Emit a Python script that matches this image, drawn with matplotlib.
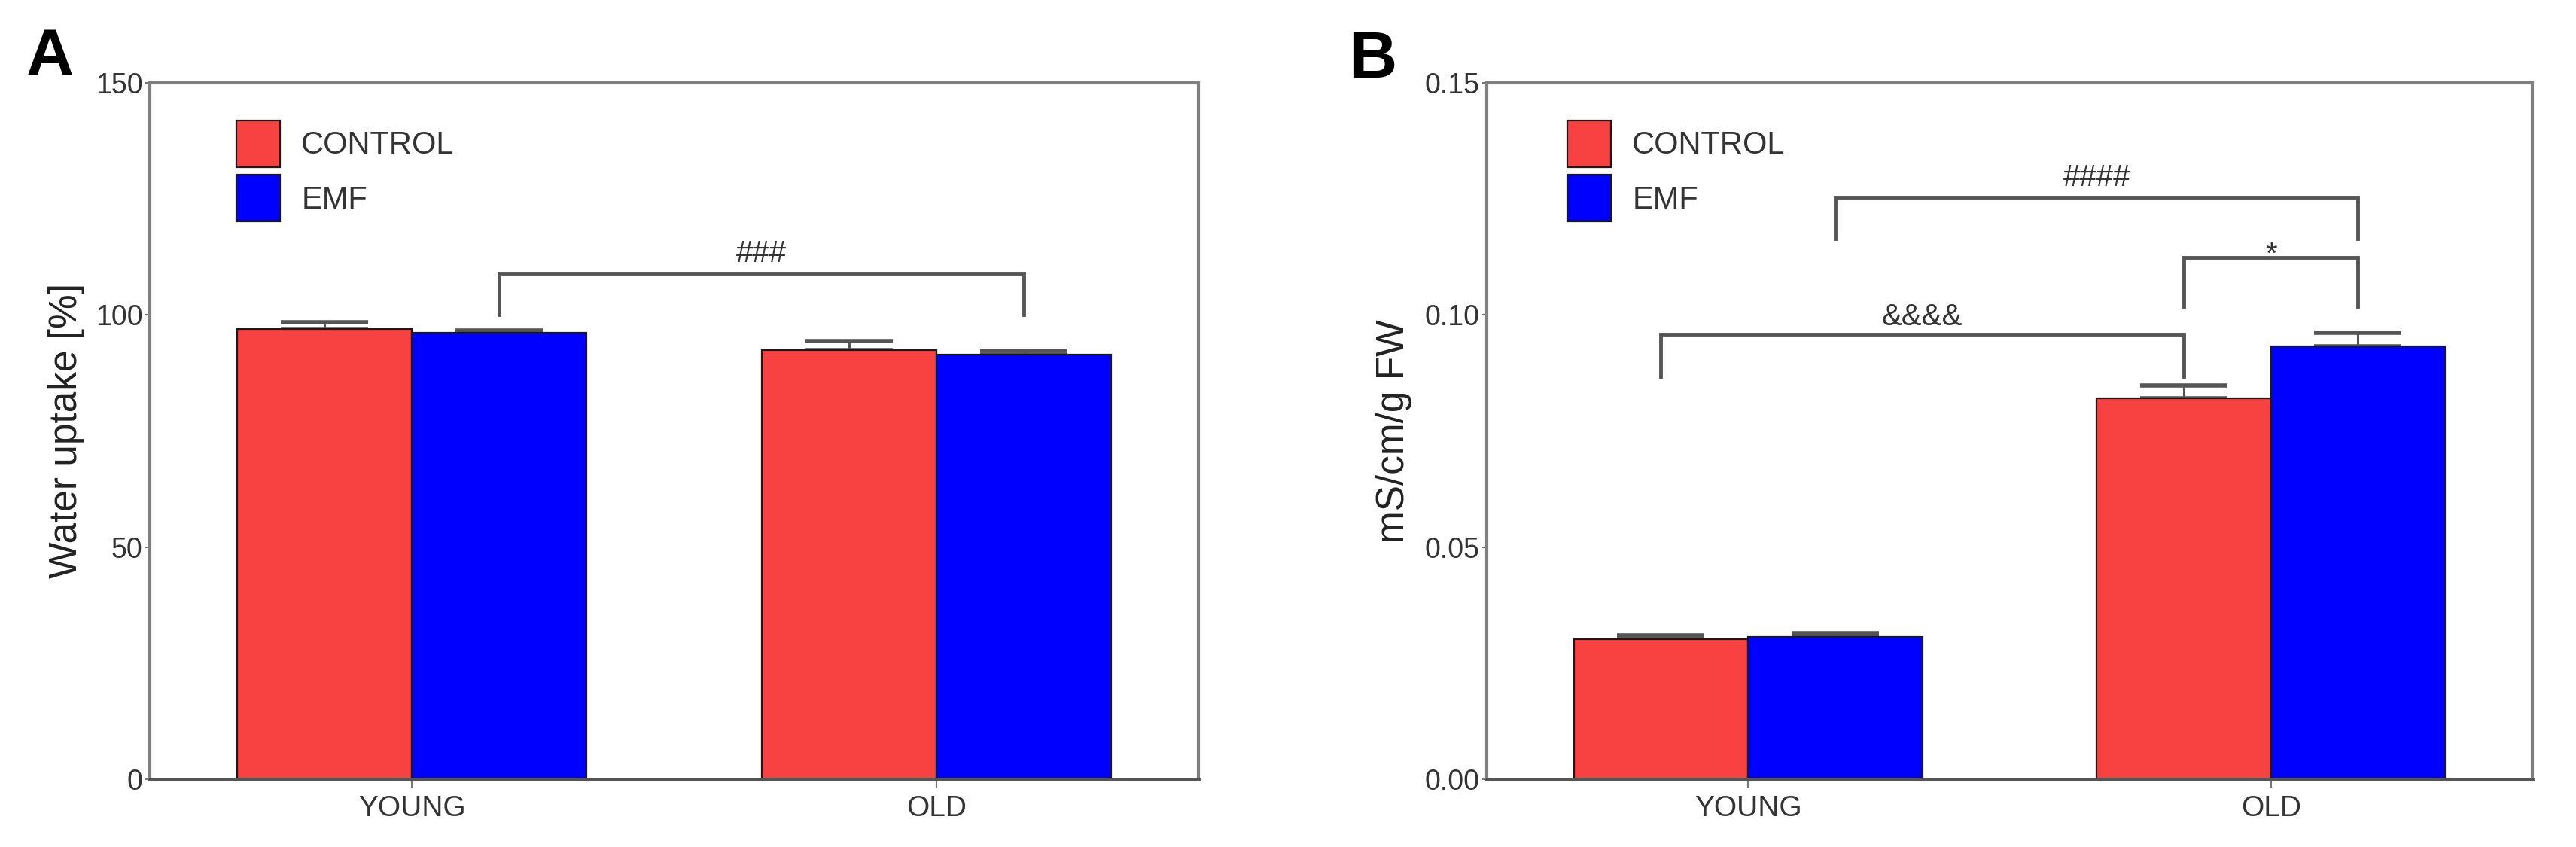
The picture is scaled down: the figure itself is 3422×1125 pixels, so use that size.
import numpy as np
import matplotlib
matplotlib.use('Agg')
import matplotlib.pyplot as plt
from matplotlib.patches import Patch

plt.rcParams['font.family'] = ['Liberation Sans', 'DejaVu Sans']

# data
groups = ['YOUNG', 'OLD']
series = ['CONTROL', 'EMF']
colors = ['#F84242', '#0000FF']

water_ctrl = [97.0, 92.4]
water_ctrl_err = [1.4, 2.0]
water_emf = [96.2, 91.4]
water_emf_err = [0.5, 0.8]

cond_ctrl = [0.0302, 0.0820]
cond_ctrl_err = [0.0008, 0.0028]
cond_emf = [0.0306, 0.0932]
cond_emf_err = [0.0009, 0.0029]

# significance brackets: (bar1, bar2, top, leg bottom, label, label baseline)
# bar index: (group, series)
brackets_a = [((0, 1), (1, 1), 109.0, 100.0, '###', 111.4)]
brackets_b = [((0, 0), (1, 0), 0.0958, 0.0868, '&&&&', 0.0978),
              ((1, 0), (1, 1), 0.1124, 0.1019, '*', 0.1111),
              ((0, 1), (1, 1), 0.1253, 0.1164, '####', 0.1278)]

W, H = 3423, 1125
fig = plt.figure(figsize=(W / 100, H / 100), dpi=100)
ax_a = fig.add_axes([199 / W, 90 / H, 1393 / W, 925 / H])
ax_b = fig.add_axes([1975 / W, 90 / H, 1389 / W, 925 / H])

bw = 1 / 3
x = np.arange(len(groups))
offs = [-bw / 2, bw / 2]
line_c = '#555555'


def bar_x(idx):
    return x[idx[0]] + offs[idx[1]]


def draw_panel(ax, ctrl, ctrl_err, emf, emf_err, ymax, yticks, fmt, ylabel,
               brackets, leg_x, label_x):
    for i, (vals, errs) in enumerate([(ctrl, ctrl_err), (emf, emf_err)]):
        ax.bar(x + offs[i], vals, width=bw, color=colors[i], edgecolor='#1a1a1a',
               linewidth=1.6, zorder=2)
        ax.errorbar(x + offs[i], vals, yerr=[np.zeros(len(errs)), errs], fmt='none',
                    ecolor=line_c, elinewidth=2.2, capsize=42, capthick=4, zorder=1)
    for b1, b2, top, bot, txt, ty in brackets:
        x1, x2 = bar_x(b1), bar_x(b2)
        ax.plot([x1, x1, x2, x2], [bot, top, top, bot], color=line_c, lw=3.5,
                solid_joinstyle='miter', zorder=3)
        ax.text((x1 + x2) / 2, ty, txt, ha='center', va='baseline', fontsize=29,
                color='#333333')
    ax.set_xlim(-0.5, 1.5)
    ax.set_ylim(0, ymax)
    ax.set_xticks(x)
    ax.set_xticklabels(groups)
    ax.set_yticks(yticks)
    ax.set_yticklabels([fmt % t for t in yticks])
    ax.tick_params(axis='y', length=4, width=1.5, color='#777777', pad=3,
                   labelsize=27, labelcolor='#333333')
    ax.tick_params(axis='x', length=8, width=1.5, color='#777777', pad=7,
                   labelsize=28, labelcolor='#333333')
    for s in ax.spines.values():
        s.set_color('#808080')
        s.set_linewidth(3)
    ax.spines['bottom'].set_color('#555555')
    ax.spines['bottom'].set_linewidth(3.5)
    ax.set_ylabel(ylabel, fontsize=37, color='#222222')
    ax.yaxis.set_label_coords(label_x, 0.5)
    handles = [Patch(facecolor=colors[i], edgecolor='#1a1a1a', linewidth=1.6,
                     label=series[i]) for i in range(2)]
    leg = ax.legend(handles=handles, loc='upper left', bbox_to_anchor=(leg_x, 0.946),
                    frameon=False, borderpad=0, borderaxespad=0, fontsize=30,
                    handlelength=1.4, handleheight=1.9, handletextpad=0.67,
                    labelspacing=0.26)
    for t in leg.get_texts():
        t.set_color('#333333')


draw_panel(ax_a, water_ctrl, water_ctrl_err, water_emf, water_emf_err, 150,
           [0, 50, 100, 150], '%d', 'Water uptake [%]', brackets_a, 0.0826, -0.062)
draw_panel(ax_b, cond_ctrl, cond_ctrl_err, cond_emf, cond_emf_err, 0.15,
           [0.0, 0.05, 0.10, 0.15], '%.2f', 'mS/cm/g FW', brackets_b, 0.077, -0.071)

fig.text(35 / W, 1 - 100 / H, 'A', fontsize=63, fontweight='bold', va='baseline')
fig.text(1792 / W, 1 - 103 / H, 'B', fontsize=63, fontweight='bold', va='baseline')

fig.savefig('out.png', dpi=100, facecolor='white')
